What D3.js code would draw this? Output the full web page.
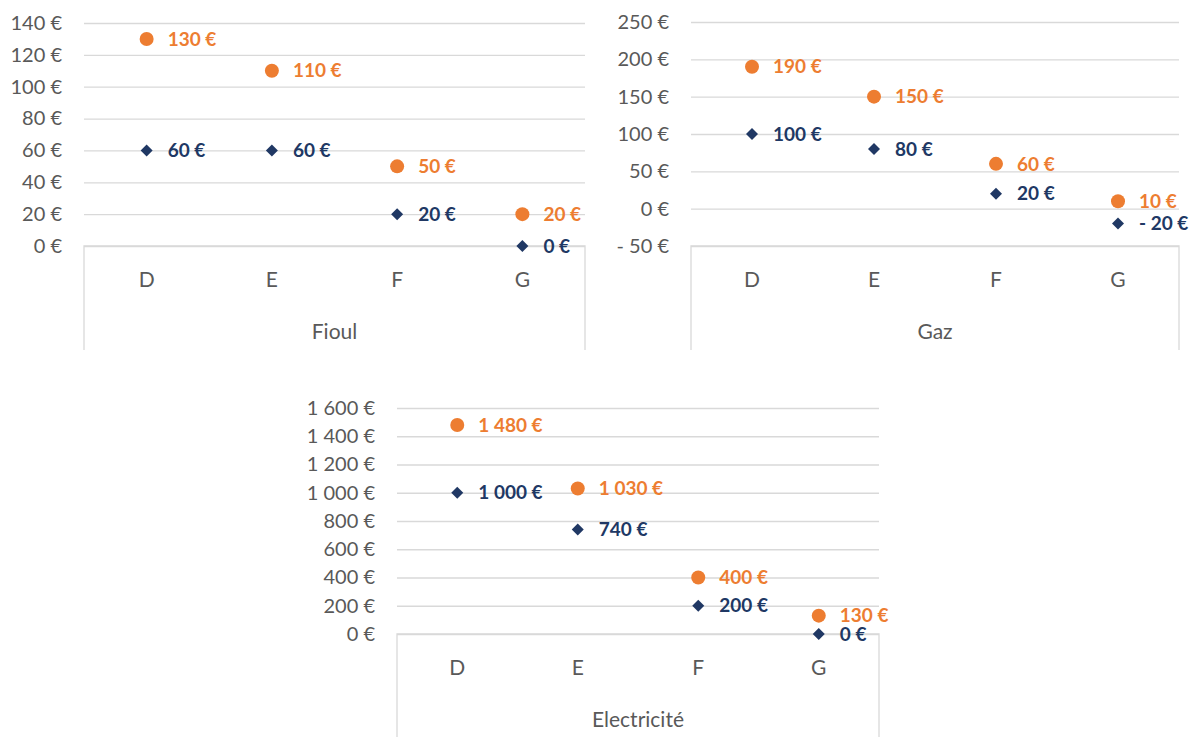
<!DOCTYPE html>
<html>
<head>
<meta charset="utf-8">
<script src="https://cdn.jsdelivr.net/npm/d3@7"></script>
<style>
  body { margin: 0; background: #fff; }
  svg { display: block; font-family: Lato, "Open Sans", sans-serif; }
</style>
</head>
<body>
<svg id="chart" width="1189" height="737"></svg>
<script>
const categories = ["D", "E", "F", "G"];

const fioulHigh = [130, 110, 50, 20];
const fioulLow = [60, 60, 20, 0];
const fioulTicks = [0, 20, 40, 60, 80, 100, 120, 140];

const gazHigh = [190, 150, 60, 10];
const gazLow = [100, 80, 20, -20];
const gazTicks = [-50, 0, 50, 100, 150, 200, 250];

const elecHigh = [1480, 1030, 400, 130];
const elecLow = [1000, 740, 200, 0];
const elecTicks = [0, 200, 400, 600, 800, 1000, 1200, 1400, 1600];

const ORANGE = "#ED7D31";
const NAVY = "#203864";
const GRID = "#D9D9D9";
const TEXT = "#595959";

// panel boxes (plot area in px)
const panels = [
  { title: "Fioul", high: fioulHigh, low: fioulLow, ticks: fioulTicks,
    left: 84, right: 585, top: 23, bottom: 246, boxBottom: 350, titleY: 334 },
  { title: "Gaz", high: gazHigh, low: gazLow, ticks: gazTicks,
    left: 691, right: 1179, top: 22, bottom: 246, boxBottom: 350, titleY: 334 },
  { title: "Electricité", high: elecHigh, low: elecLow, ticks: elecTicks,
    left: 397, right: 879, top: 408, bottom: 634, boxBottom: 737, titleY: 722 }
];

const euro = v => (v < 0 ? "- " : "") + d3.format(",")(Math.abs(v)).replace(/,/g, " ") + " €";

const svg = d3.select("#chart");

panels.forEach(p => {
  const g = svg.append("g");

  const x = d3.scaleBand().domain(categories).range([p.left, p.right]);
  const y = d3.scaleLinear().domain(d3.extent(p.ticks)).range([p.bottom, p.top]);

  // gridlines + tick labels
  g.append("g")
    .attr("transform", `translate(${p.left},0)`)
    .call(d3.axisLeft(y).tickValues(p.ticks).tickFormat(euro).tickSize(-(p.right - p.left)).tickPadding(22))
    .call(a => a.select(".domain").remove())
    .call(a => a.selectAll("line").attr("stroke", GRID).attr("stroke-width", 1.3))
    .call(a => a.selectAll("text").attr("fill", TEXT).style("font-size", "20px").style("font-family", "Lato, sans-serif"));

  // category box
  g.append("path")
    .attr("d", `M${p.left},${p.boxBottom}V${p.bottom}H${p.right}V${p.boxBottom}`)
    .attr("fill", "none")
    .attr("stroke", GRID)
    .attr("stroke-width", 1.3);

  g.append("g")
    .attr("transform", `translate(0,${p.bottom})`)
    .call(d3.axisBottom(x).tickSize(0).tickPadding(26))
    .call(a => a.select(".domain").remove())
    .call(a => a.selectAll("text").attr("fill", TEXT).style("font-size", "21px").style("font-family", "Lato, sans-serif"));

  g.append("text")
    .attr("x", (p.left + p.right) / 2)
    .attr("y", p.titleY)
    .attr("text-anchor", "middle")
    .attr("dominant-baseline", "middle")
    .attr("fill", TEXT)
    .style("font-size", "21px")
    .text(p.title);

  const cx = c => x(c) + x.bandwidth() / 2;

  // low series: diamonds
  g.selectAll(".low")
    .data(categories)
    .join("path")
    .attr("transform", (c, i) => `translate(${cx(c)},${y(p.low[i])}) rotate(45)`)
    .attr("d", d3.symbol(d3.symbolSquare, 72)())
    .attr("fill", NAVY);

  // high series: circles
  g.selectAll(".high")
    .data(categories)
    .join("circle")
    .attr("cx", cx)
    .attr("cy", (c, i) => y(p.high[i]))
    .attr("r", 7)
    .attr("fill", ORANGE);

  // labels
  [[p.low, NAVY], [p.high, ORANGE]].forEach(([vals, col]) => {
    g.selectAll(null)
      .data(categories)
      .join("text")
      .attr("x", c => cx(c) + 21)
      .attr("y", (c, i) => y(vals[i]))
      .attr("dy", "0.35em")
      .attr("fill", col)
      .style("font-size", "19px")
      .style("font-weight", "bold")
      .text((c, i) => euro(vals[i]));
  });
});
</script>
</body>
</html>
